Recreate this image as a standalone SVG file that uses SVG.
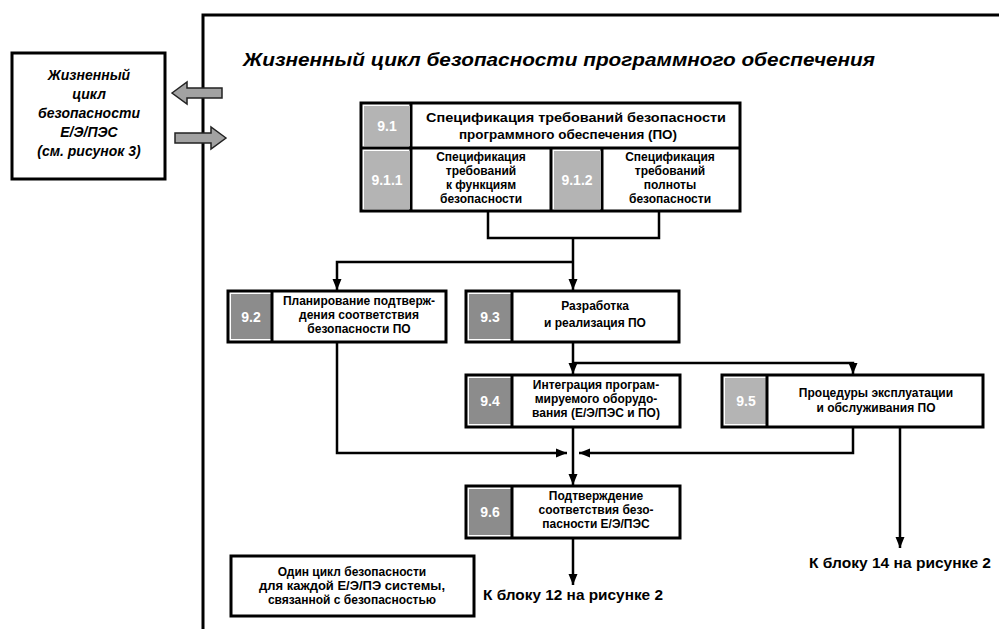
<svg xmlns="http://www.w3.org/2000/svg" width="999" height="629" viewBox="0 0 999 629">
<defs>
<marker id="ah" markerUnits="userSpaceOnUse" markerWidth="12" markerHeight="10" viewBox="0 -5 12 10" refX="11" refY="0" orient="auto">
<path d="M0,-4.5 L11,0 L0,4.5 z" fill="#000"/>
</marker>
<style>
.box{fill:#fff;stroke:#000;stroke-width:3}
.sq{fill:#8c8c8c;stroke:none}
.sql{fill:#b4b4b4;stroke:none}
.num{font-family:"Liberation Sans",Arial,sans-serif;font-weight:bold;font-size:14px;fill:#fff;text-anchor:middle}
.t{font-family:"Liberation Sans",Arial,sans-serif;font-weight:bold;font-size:12px;fill:#000;text-anchor:middle}
.lbl{font-family:"Liberation Sans",Arial,sans-serif;font-weight:bold;font-size:15px;fill:#000}
.ln{fill:none;stroke:#000;stroke-width:2.5}
.frame{fill:none;stroke:#000;stroke-width:3}
.barrow{fill:#a2a2a2;stroke:#222;stroke-width:1.5}
</style>
</defs>
<rect width="999" height="629" fill="#fff"/>

<g id="frame">
<path class="frame" d="M203,629 L203,15 L999,15"/>
<text x="243" y="66" font-family="'Liberation Sans',Arial,sans-serif" font-weight="bold" font-style="italic" font-size="19" textLength="632" lengthAdjust="spacingAndGlyphs">Жизненный цикл безопасности программного обеспечения</text>
</g>

<g id="ext-lifecycle">
<rect class="box" x="12" y="53" width="153" height="126"/>
<g font-family="'Liberation Sans',Arial,sans-serif" font-weight="bold" font-style="italic" font-size="14" text-anchor="middle">
<text x="89" y="80">Жизненный</text>
<text x="89" y="99">цикл</text>
<text x="89" y="118">безопасности</text>
<text x="89" y="137">Е/Э/ПЭС</text>
<text x="89" y="156">(см. рисунок 3)</text>
</g>
</g>

<g id="block-arrows">
<path class="barrow" d="M172,93 L187,82 L187,88 L222,88 L222,98 L187,98 L187,104 z"/>
<path class="barrow" d="M226,138 L211,127 L211,133 L175,133 L175,143 L211,143 L211,149 z"/>
</g>

<g id="n91">
<rect class="box" x="361" y="103" width="379" height="108"/>
<line x1="361" y1="148" x2="740" y2="148" stroke="#000" stroke-width="3"/>
<line x1="411" y1="103" x2="411" y2="148" stroke="#000" stroke-width="3"/>
<rect class="sql" x="364" y="106" width="46" height="40"/>
<text class="num" x="387" y="131">9.1</text>
<text class="t" x="576" y="122" textLength="300" lengthAdjust="spacingAndGlyphs">Спецификация требований безопасности</text>
<text class="t" x="568" y="139" textLength="218" lengthAdjust="spacingAndGlyphs">программного обеспечения (ПО)</text>
</g>

<g id="n911">
<line x1="411" y1="148" x2="411" y2="211" stroke="#000" stroke-width="3"/>
<line x1="551" y1="148" x2="551" y2="211" stroke="#000" stroke-width="3"/>
<rect class="sql" x="364" y="151" width="46" height="58"/>
<text class="num" x="387" y="185">9.1.1</text>
<text class="t" x="481" y="161">Спецификация</text>
<text class="t" x="481" y="175">требований</text>
<text class="t" x="481" y="189">к функциям</text>
<text class="t" x="481" y="203">безопасности</text>
</g>

<g id="n912">
<line x1="602" y1="148" x2="602" y2="211" stroke="#000" stroke-width="3"/>
<rect class="sql" x="554" y="151" width="47" height="58"/>
<text class="num" x="577" y="185">9.1.2</text>
<text class="t" x="670" y="161">Спецификация</text>
<text class="t" x="670" y="175">требований</text>
<text class="t" x="670" y="189">полноты</text>
<text class="t" x="670" y="203">безопасности</text>
</g>

<g id="n92">
<rect class="box" x="228" y="291" width="218" height="51"/>
<rect class="sq" x="231" y="294" width="40" height="45"/>
<line x1="272" y1="291" x2="272" y2="342" stroke="#000" stroke-width="3"/>
<text class="num" x="251" y="322">9.2</text>
<text class="t" x="359" y="305">Планирование подтверж-</text>
<text class="t" x="359" y="319">дения соответствия</text>
<text class="t" x="359" y="333">безопасности ПО</text>
</g>

<g id="n93">
<rect class="box" x="466" y="291" width="213" height="51"/>
<rect class="sq" x="469" y="294" width="42" height="45"/>
<line x1="512" y1="291" x2="512" y2="342" stroke="#000" stroke-width="3"/>
<text class="num" x="490" y="322">9.3</text>
<text class="t" x="595" y="310">Разработка</text>
<text class="t" x="595" y="327">и реализация ПО</text>
</g>

<g id="n94">
<rect class="box" x="466" y="375" width="214" height="52"/>
<rect class="sq" x="469" y="378" width="42" height="46"/>
<line x1="512" y1="375" x2="512" y2="427" stroke="#000" stroke-width="3"/>
<text class="num" x="490" y="406">9.4</text>
<text class="t" x="596" y="389">Интеграция програм-</text>
<text class="t" x="596" y="403">мируемого оборудо-</text>
<text class="t" x="596" y="417">вания (Е/Э/ПЭС и ПО)</text>
</g>

<g id="n95">
<rect class="box" x="722" y="375" width="261" height="52"/>
<rect class="sql" x="725" y="378" width="41" height="46"/>
<line x1="767" y1="375" x2="767" y2="427" stroke="#000" stroke-width="3"/>
<text class="num" x="746" y="406">9.5</text>
<text class="t" x="876" y="397">Процедуры эксплуатации</text>
<text class="t" x="876" y="412">и обслуживания ПО</text>
</g>

<g id="n96">
<rect class="box" x="466" y="486" width="214" height="52"/>
<rect class="sq" x="469" y="489" width="42" height="46"/>
<line x1="512" y1="486" x2="512" y2="538" stroke="#000" stroke-width="3"/>
<text class="num" x="490" y="517">9.6</text>
<text class="t" x="596" y="500">Подтверждение</text>
<text class="t" x="596" y="514">соответствия безо-</text>
<text class="t" x="596" y="528">пасности Е/Э/ПЭС</text>
</g>

<g id="note">
<rect class="box" x="231" y="556" width="243" height="60"/>
<text class="t" x="352" y="576">Один цикл безопасности</text>
<text class="t" x="352" y="590" textLength="186" lengthAdjust="spacingAndGlyphs">для каждой Е/Э/ПЭ системы,</text>
<text class="t" x="352" y="604">связанной с безопасностью</text>
</g>

<g id="out12">
<text class="lbl" x="483" y="600" textLength="180" lengthAdjust="spacingAndGlyphs">К блоку 12 на рисунке 2</text>
</g>
<g id="out14">
<text class="lbl" x="809" y="568" textLength="182" lengthAdjust="spacingAndGlyphs">К блоку 14 на рисунке 2</text>
</g>

<g id="connectors">
<path class="ln" d="M488,212 L488,238 L659,238 L659,212"/>
<path class="ln" d="M573,238 L573,262"/>
<path class="ln" d="M573,262 L337,262 L337,290" marker-end="url(#ah)"/>
<path class="ln" d="M573,262 L573,290" marker-end="url(#ah)"/>
<path class="ln" d="M573,343 L573,363 L853,363 L853,374" marker-end="url(#ah)"/>
<path class="ln" d="M573,363 L573,374" marker-end="url(#ah)"/>
<path class="ln" d="M337,343 L337,453 L567,453" marker-end="url(#ah)"/>
<path class="ln" d="M853,428 L853,453 L579,453" marker-end="url(#ah)"/>
<path class="ln" d="M573,428 L573,485" marker-end="url(#ah)"/>
<path class="ln" d="M900,428 L900,548" marker-end="url(#ah)"/>
<path class="ln" d="M573,539 L573,585" marker-end="url(#ah)"/>
</g>
</svg>
